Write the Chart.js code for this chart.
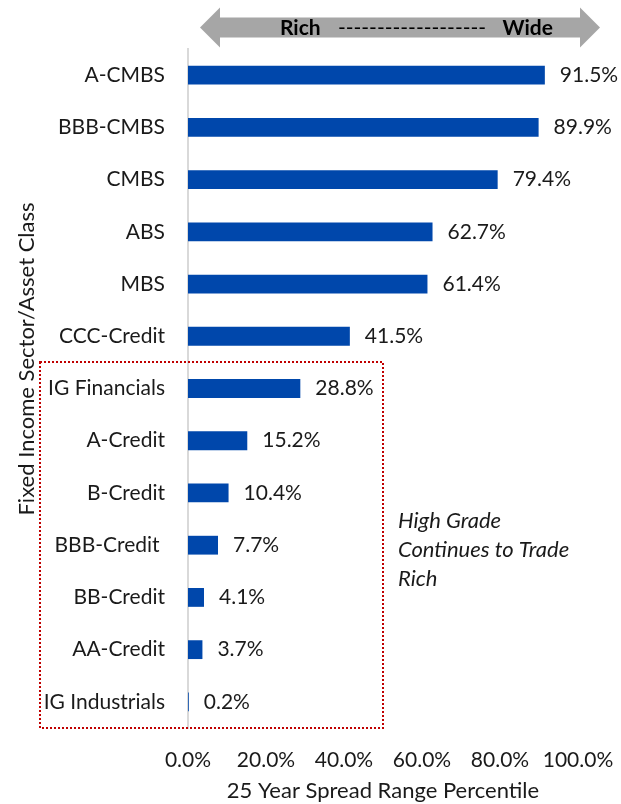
<!DOCTYPE html>
<html>
<head>
<meta charset="utf-8">
<script src="https://cdn.jsdelivr.net/npm/chart.js@4.4.0/dist/chart.umd.min.js"></script>
<style>
  html, body { margin: 0; padding: 0; background: #fff; }
  #chart { display: block; }
</style>
</head>
<body>
<canvas id="chart" width="621" height="804"></canvas>
<script>
  // chart data
  const sectorNames = [
    "A-CMBS", "BBB-CMBS", "CMBS", "ABS", "MBS", "CCC-Credit", "IG Financials",
    "A-Credit", "B-Credit", "BBB-Credit ", "BB-Credit", "AA-Credit", "IG Industrials",
  ];
  const spreadPercentiles = [91.5, 89.9, 79.4, 62.7, 61.4, 41.5, 28.8, 15.2, 10.4, 7.7, 4.1, 3.7, 0.2];
  const xTickValues = [0, 20, 40, 60, 80, 100];
  const highGradeStart = "IG Financials";
  const noteLines = ["High Grade", "Continues to Trade", "Rich"];

  // styles
  const barColor = "#0047AB";
  const textColor = "#1a1a1a";
  const fontFamily = "Lato, 'Open Sans', sans-serif";

  // extra drawing: value labels, rich/wide arrow, dotted box, note
  const extrasPlugin = {
    id: "extras",
    afterDraw(chart) {
      const { ctx, chartArea, scales } = chart;
      const x = scales.x, y = scales.y;
      ctx.save();

      // value labels
      ctx.font = "21px " + fontFamily;
      ctx.fillStyle = textColor;
      ctx.textAlign = "left";
      ctx.textBaseline = "middle";
      chart.getDatasetMeta(0).data.forEach((bar, i) => {
        ctx.fillText(spreadPercentiles[i].toFixed(1) + "%", bar.x + 15, bar.y);
      });

      // y axis title
      ctx.save();
      ctx.font = "22px " + fontFamily;
      ctx.translate(27, 359);
      ctx.rotate(-Math.PI / 2);
      ctx.textAlign = "center";
      ctx.fillText("Fixed Income Sector/Asset Class", 0, 0);
      ctx.restore();

      // arrow
      const ax0 = 200, ax1 = 600, ay = 27.5, head = 20, headH = 20, shaftH = 10;
      ctx.fillStyle = "#A6A6A6";
      ctx.beginPath();
      ctx.moveTo(ax0, ay);
      ctx.lineTo(ax0 + head, ay - headH);
      ctx.lineTo(ax0 + head, ay - shaftH);
      ctx.lineTo(ax1 - head, ay - shaftH);
      ctx.lineTo(ax1 - head, ay - headH);
      ctx.lineTo(ax1, ay);
      ctx.lineTo(ax1 - head, ay + headH);
      ctx.lineTo(ax1 - head, ay + shaftH);
      ctx.lineTo(ax0 + head, ay + shaftH);
      ctx.lineTo(ax0 + head, ay + headH);
      ctx.closePath();
      ctx.fill();

      ctx.fillStyle = "#000";
      ctx.font = "bold 21px " + fontFamily;
      ctx.textAlign = "left";
      ctx.fillText("Rich", 280, ay + 1);
      ctx.textAlign = "right";
      ctx.fillText("Wide", 553, ay + 1);
      ctx.textAlign = "center";
      ctx.font = "21px " + fontFamily;
      ctx.fillText("-".repeat(19), 412, ay + 1);

      // dotted box around high grade
      const idx = sectorNames.indexOf(highGradeStart);
      const boxTop = Math.round((y.getPixelForValue(idx) + y.getPixelForValue(idx - 1)) / 2);
      const boxRight = Math.round(x.getPixelForValue(50));
      ctx.strokeStyle = "#C00000";
      ctx.lineWidth = 2;
      ctx.setLineDash([2, 2]);
      ctx.strokeRect(40, boxTop, boxRight - 40, chartArea.bottom - boxTop);
      ctx.setLineDash([]);

      // note
      ctx.fillStyle = textColor;
      ctx.font = "italic 22px " + fontFamily;
      ctx.textAlign = "left";
      noteLines.forEach((line, i) => {
        ctx.fillText(line, 398, 521 + i * 29);
      });

      ctx.restore();
    },
  };

  new Chart(document.getElementById("chart"), {
    type: "bar",
    data: {
      labels: sectorNames,
      datasets: [{
        data: spreadPercentiles,
        backgroundColor: barColor,
        borderWidth: 0,
        barPercentage: 0.36,
        categoryPercentage: 1,
      }],
    },
    options: {
      indexAxis: "y",
      responsive: false,
      animation: false,
      layout: { padding: { top: 49, right: 43, left: 0, bottom: 0 } },
      plugins: {
        legend: { display: false },
        tooltip: { enabled: false },
      },
      scales: {
        x: {
          min: 0,
          max: 100,
          grid: { display: false, drawTicks: false },
          border: { display: false },
          afterBuildTicks: (s) => { s.ticks = xTickValues.map((v) => ({ value: v })); },
          afterFit: (s) => { s.height = 76; s.paddingLeft = 0; s.paddingRight = 0; },
          ticks: {
            autoSkip: false,
            maxRotation: 0,
            padding: 20,
            color: textColor,
            font: { family: fontFamily, size: 21 },
            callback: (v) => Number(v).toFixed(1) + "%",
          },
          title: {
            display: true,
            text: "25 Year Spread Range Percentile",
            color: textColor,
            font: { family: fontFamily, size: 22 },
            padding: { top: 0, bottom: 0 },
          },
        },
        y: {
          grid: { display: false, drawTicks: false },
          border: { display: true, color: "#D9D9D9", width: 2 },
          afterFit: (s) => { s.width = 188; s.paddingTop = 0; s.paddingBottom = 0; },
          ticks: {
            autoSkip: false,
            padding: 23,
            color: textColor,
            font: { family: fontFamily, size: 21 },
          },
        },
      },
    },
    plugins: [extrasPlugin],
  });
</script>
</body>
</html>
